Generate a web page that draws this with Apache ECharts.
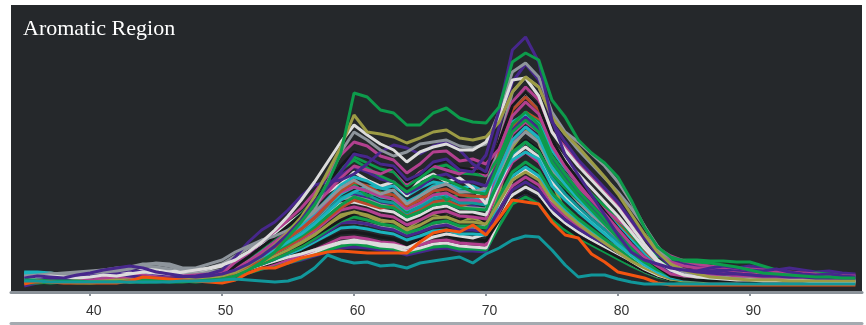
<!DOCTYPE html>
<html>
<head>
<meta charset="utf-8">
<script src="https://cdn.jsdelivr.net/npm/echarts@6/dist/echarts.min.js"></script>
<style>html,body{margin:0;padding:0;background:#fff;}#c{width:866px;height:325px;}</style>
</head>
<body>
<div id="c"></div>
<script>
const titleText = "Aromatic Region";
const tickLabels = [40, 50, 60, 70, 80, 90];
const xValues = [35,36,37,38,39,40,41,42,43,44,45,46,47,48,49,50,51,52,53,54,55,56,57,58,59,60,61,62,63,64,65,66,67,68,69,70,71,72,73,74,75,76,77,78,79,80,81,82,83,84,85,86,87,88,89,90,91,92,93,94,95,96,97,98];

const greenTop = [12,12,11,11,11,10,10,10,11,12, 12,12,11,11,12,13,16,22,30,40, 55,70,87,109,139,199,195,182,179,167, 167,179,184,174,170,169,185,230,239,232, 192,175,152,139,129,115,92,65,45,35, 31,30,29,27,25,22,19,18,17,16, 15,15,14,14];
const purpleTop = [14,16,15,14,17,19,22,24,26,24, 20,18,16,15,16,18,22,28,36,46, 58,72,90,106,120,138,135,128,126,112, 118,130,133,122,120,137,182,242,255,230, 172,137,117,97,77,57,40,32,28,24, 22,20,19,18,18,17,16,16,15,15, 14,14,14,14];
const oliveHigh = [10,11,10,10,11,10,11,12,12,13, 13,12,12,13,14,16,20,27,36,47, 60,75,95,120,145,177,160,158,155,149, 154,160,162,154,152,155,170,200,215,205, 175,158,145,130,115,98,78,58,40,28, 22,18,15,14,13,12,12,12,11,11, 11,11,11,11];
const whiteHigh = [14,15,16,15,14,15,17,16,18,20, 19,18,20,22,24,27,32,40,50,62, 76,92,110,130,150,167,157,148,142,130, 140,145,148,142,142,150,175,212,214,196, 160,142,126,112,98,84,66,48,32,22, 17,15,14,13,12,12,11,11,11,11, 10,10,10,10];
const grayHigh = [16,17,18,17,18,19,20,21,23,27, 29,28,24,24,28,32,40,46,52,56, 62,70,82,110,140,160,152,142,136,140, 148,150,152,146,144,148,180,220,229,215, 180,160,150,138,126,110,90,66,42,28, 20,16,15,14,13,13,12,12,12,12, 12,11,11,11];
const magentaA = [12,13,12,14,13,12,13,15,14,13, 14,15,14,15,16,18,30,39,50,61, 72,84,99,117,137,150,146,136,132,119, 128,140,141,131,133,128,143,176,190,178, 146,125,108,92,78,63,48,35,26,18, 16,15,17,18,16,15,14,14,13,13, 13,12,12,12];
const blackA = [10,11,10,10,11,12,11,12,13,12, 12,13,14,13,15,16,26,35,45,55, 66,77,91,108,126,140,134,128,124,110, 118,128,132,124,122,119,150,186,200,186, 152,130,112,96,80,64,49,35,25,16, 13,12,11,11,11,10,10,10,10,10, 10,10,10,10];
const greenB = [11,12,11,12,12,13,12,11,12,13, 13,14,13,14,15,17,26,35,44,54, 64,76,89,106,123,135,129,123,120,106, 114,124,127,119,118,116,135,168,180,167, 136,118,101,87,73,58,44,32,24,17, 14,13,12,12,12,11,11,11,11,11, 11,11,10,10];
const purpleB = [13,14,15,14,13,16,18,20,22,20, 18,16,15,14,15,17,28,36,45,54, 63,73,86,101,117,125,120,113,110,98, 105,115,118,110,110,106,130,162,175,163, 133,115,99,85,72,58,45,33,26,20, 18,19,21,20,18,17,16,15,15,14, 14,13,13,13];
const cyanA = [18,17,16,14,13,12,12,13,12,12, 13,12,13,14,15,16,26,33,41,49, 58,67,79,93,107,115,111,104,101,90, 97,106,108,101,101,99,122,152,165,154, 125,108,93,80,68,55,42,31,22,15, 13,12,12,12,12,12,11,11,11,11, 11,11,11,11];
const brownA = [10,10,11,11,10,10,11,11,11,12, 12,11,12,12,13,14,23,30,38,45, 54,63,74,87,101,110,106,99,97,86, 92,101,103,97,96,95,140,182,195,182, 150,128,110,94,79,63,47,34,24,16, 13,12,11,11,11,10,10,10,10,10, 10,10,10,10];
const tealB = [15,16,15,13,12,12,11,11,12,12, 12,13,12,13,14,15,23,29,36,43, 51,59,69,81,94,100,97,91,89,79, 85,93,95,89,89,87,110,138,150,140, 114,98,85,73,62,50,38,28,20,14, 12,12,11,11,11,11,11,11,11,11, 11,10,10,10];
const grayB = [17,18,19,17,16,18,20,22,24,26, 25,23,20,19,20,22,30,36,42,48, 54,60,70,82,93,95,92,87,85,76, 82,89,91,85,84,83,118,148,160,150, 122,105,90,77,66,54,42,30,22,16, 14,14,13,14,13,13,13,13,12,12, 12,12,12,12];
const whiteB = [14,15,16,16,15,14,16,18,19,22, 23,21,18,17,18,20,25,31,37,43, 50,57,66,77,88,90,87,82,80,72, 77,84,86,80,80,77,108,135,145,135, 110,95,82,70,60,48,37,27,20,15, 13,12,12,12,12,11,11,11,11,11, 11,11,11,11];
const magentaB = [12,13,14,15,16,15,14,13,14,15, 14,13,14,13,14,15,22,27,33,39, 46,53,61,72,82,85,82,77,75,67, 72,79,81,76,75,73,105,130,140,130, 108,94,82,72,62,52,42,34,28,24, 22,21,20,20,19,18,18,17,17,16, 16,15,15,15];
const oliveB = [10,11,10,10,11,11,12,11,10,11, 11,12,11,12,12,13,19,24,30,36, 42,49,57,67,77,80,77,72,70,62, 67,74,75,70,70,68,90,112,120,112, 92,79,68,58,49,40,31,24,18,13, 11,11,10,10,10,10,10,10,10,10, 10,10,10,10];
const greenC = [9,10,9,10,10,9,10,11,10,10, 11,10,10,11,11,12,18,23,28,33, 39,45,53,62,71,75,72,68,66,59, 63,69,71,66,66,64,95,120,130,121, 99,85,73,63,53,43,34,25,19,14, 12,11,11,10,10,10,10,10,10,10, 10,10,10,10];
const purpleC = [11,12,12,13,14,16,17,16,15,14, 13,12,12,12,13,14,19,24,28,33, 39,45,52,60,69,70,68,64,62,56, 60,65,67,62,62,60,82,102,110,102, 84,72,63,55,48,41,35,30,26,22, 20,19,19,20,21,20,19,18,17,17, 16,16,15,15];
const cyanB = [20,20,19,17,15,13,12,12,13,13, 13,14,13,14,14,15,20,24,28,33, 38,43,50,57,64,65,63,60,58,52, 56,61,62,58,58,57,90,116,125,116, 95,82,70,61,52,42,33,25,19,14, 13,12,12,12,12,12,12,11,11,11, 11,11,11,11];
const blackB = [10,11,11,12,12,11,12,13,12,12, 13,13,14,13,13,14,18,22,26,30, 35,40,46,53,59,60,58,55,53,48, 52,56,57,53,53,51,72,93,100,93, 76,65,56,49,42,35,28,21,16,12, 11,11,10,10,10,10,10,10,10,10, 10,10,10,10];
const magentaC = [10,11,12,12,11,12,13,14,13,12, 12,11,11,12,12,13,17,21,24,28, 32,37,42,48,54,55,53,50,49,44, 47,51,52,49,48,47,80,106,115,107, 88,76,66,58,50,43,37,31,27,24, 22,21,21,22,23,22,21,20,19,18, 18,17,17,17];
const whiteC = [12,13,14,14,13,13,15,16,16,17, 16,15,14,14,15,16,19,22,26,29, 32,36,40,45,49,50,49,46,45,41, 44,48,49,46,45,44,72,97,105,98, 80,69,60,52,44,36,28,21,16,13, 12,12,12,12,11,11,11,11,11,11, 11,11,11,11];
const greenD = [9,9,10,10,9,9,10,10,11,10, 10,11,11,10,11,12,16,19,23,26, 29,33,37,42,46,48,46,44,43,39, 42,45,46,43,43,42,66,88,95,88, 72,62,54,47,40,33,26,20,15,12, 10,10,10,10,10,10,10,9,9,9, 9,9,9,9];
const purpleD = [6,9,12,13,14,13,14,15,14,13, 13,12,12,13,13,14,17,20,23,26, 29,32,36,40,44,45,44,42,41,37, 40,43,44,41,41,40,70,92,100,93, 76,65,56,49,42,36,30,26,23,21, 20,20,19,19,18,18,17,17,16,16, 16,15,15,15];
const magentaTail = [14,15,14,15,16,17,16,15,16,17, 16,15,16,17,18,20,28,35,42,49, 57,66,77,89,100,105,101,96,93,83, 89,97,99,92,92,90,125,158,170,160, 135,118,104,92,82,72,62,54,44,36, 31,28,26,25,24,23,22,21,20,19, 18,17,16,15];
const greenTail = [10,11,10,11,10,10,11,10,11,12, 11,12,12,13,13,14,22,28,35,41, 48,56,65,76,87,95,91,86,84,75, 80,87,89,84,83,82,112,140,150,140, 118,104,92,82,72,62,52,43,36,33, 32,32,31,31,30,30,26,22,18,17, 19,18,16,15];
const cyanC = [19,19,18,17,15,14,13,13,14,14, 14,15,14,15,16,18,26,32,40,47, 55,63,74,86,98,105,101,95,93,82, 88,96,98,92,92,94,115,132,140,133, 106,92,80,69,58,47,37,27,20,15, 14,13,13,13,12,12,12,12,12,12, 12,12,12,12];
const grayC = [14,15,16,17,18,20,22,21,20,18, 17,16,16,17,18,19,24,28,33,38, 43,49,56,63,70,70,68,65,63,58, 62,66,68,64,64,66,108,138,150,140, 118,104,92,80,68,56,44,32,22,16, 14,14,13,13,13,12,12,12,12,12, 12,12,12,12];
const purpleE = [12,13,14,13,15,17,19,18,16,15, 14,14,15,16,18,22,35,50,62,70, 82,96,107,110,112,118,128,140,147,144, 138,146,150,142,128,120,165,210,228,212, 170,150,132,118,104,90,72,54,38,26, 22,21,24,26,24,22,21,23,20,18, 17,18,16,15];
const whiteD = [13,14,13,14,16,15,17,19,21,20, 18,20,22,21,23,26,33,40,48,58, 68,78,90,100,108,120,112,106,110,96, 112,118,110,114,104,88,140,185,200,185, 150,132,118,104,90,76,60,44,30,20, 15,13,12,12,12,11,11,11,11,11, 11,11,11,11];
const greenE = [10,10,11,11,12,12,11,12,13,12, 12,13,12,14,16,18,24,30,38,46, 55,66,78,88,98,108,96,100,92,80, 96,104,92,98,94,100,128,160,178,170, 142,128,112,98,86,72,58,44,32,24, 22,20,19,19,18,17,16,16,15,14, 14,13,13,13];
const magentaD = [12,12,13,13,14,15,16,17,16,15, 15,14,15,16,17,19,24,31,40,50, 60,72,86,100,114,126,122,118,124,108, 120,126,122,118,124,116,150,190,205,192, 160,145,130,116,100,86,70,55,40,30, 26,24,24,25,24,22,21,20,19,18, 17,17,16,16];
const grayD = [15,16,18,19,20,21,22,24,25,28, 28,26,22,21,24,28,36,44,50,56, 62,70,80,92,104,112,104,98,102,88, 96,104,108,100,100,104,150,200,215,205, 175,158,142,128,114,100,84,66,46,30, 22,18,16,15,14,14,13,13,13,13, 13,12,12,12];
const blackC = [11,11,12,11,12,12,13,12,12,13, 13,12,12,13,13,14,19,24,30,36, 42,48,56,64,72,78,80,72,74,66, 74,80,76,72,78,70,110,140,152,142, 118,100,88,76,64,52,40,30,22,16, 13,12,12,11,11,11,11,11,11,11, 11,11,11,11];
const cyanD = [16,16,15,15,14,13,13,14,14,13, 14,14,15,15,16,17,22,28,35,42, 50,58,68,80,92,100,106,104,106,96, 104,110,108,104,106,100,130,170,178,168, 142,124,108,94,80,66,52,38,26,18, 15,14,13,13,13,12,12,12,12,12, 12,12,12,12];
const oliveC = [11,11,12,12,11,12,12,13,12,12, 12,12,13,13,14,15,20,26,32,38, 44,50,58,66,74,80,76,70,72,64, 72,78,76,72,74,70,100,145,162,150, 110,80,64,58,52,44,36,28,20,15, 13,12,12,12,11,11,11,11,11,11, 11,11,11,11];
const purpleF = [14,15,16,15,14,15,16,17,16,15, 15,16,17,16,17,18,24,30,37,44, 52,60,70,82,92,98,94,88,86,76, 84,90,88,84,86,82,112,150,165,155, 128,112,100,88,76,64,54,44,38,32, 28,26,24,22,24,26,24,22,24,22, 20,21,19,18];
const brownB = [10,10,11,11,11,12,12,11,11,11, 12,12,12,13,13,14,20,26,32,39, 46,54,63,74,84,92,88,84,86,76, 82,90,92,86,90,88,125,165,180,172, 146,128,112,98,84,70,54,40,28,18, 14,12,11,11,11,11,10,10,10,10, 10,10,10,10];
const whiteE = [13,14,15,14,13,14,15,15,16,16, 16,15,15,15,16,17,20,23,27,31, 35,38,42,46,50,52,50,48,47,44, 50,55,58,56,54,58,88,112,122,114, 92,80,70,60,50,40,31,23,17,13, 12,12,11,11,11,11,11,11,11,11, 11,11,11,11];
const greenF = [10,11,11,10,11,11,12,12,11,12, 12,12,13,14,15,16,25,34,44,55, 66,78,92,108,122,132,124,116,110,100, 108,116,112,106,100,98,130,160,172,160, 130,112,96,82,68,54,40,30,22,16, 14,13,12,12,12,12,11,11,11,11, 11,11,11,11];
const orangeLow = [8,11,10,9,9,9,9,9,11,15, 14,13,12,11,10,9,12,19,24,24, 29,34,37,40,41,40,39,39,39,39, 50,59,62,60,67,57,74,92,90,88, 70,57,54,38,30,20,17,14,9,7, 7,7,7,7,7,7,7,7,7,7, 7,7,7,7];
const tealLow = [11,11,10,10,10,10,10,10,10,10, 10,10,11,11,11,12,13,12,11,10, 11,15,24,37,32,29,30,26,27,24, 29,31,33,35,29,38,44,52,56,55, 42,27,15,17,17,13,10,8,8,8, 8,8,8,8,8,8,8,8,8,8, 8,8,8,8];

const C = {
  green: '#0d9b4b', olive: '#9c9b45', white: '#dcdcdc', gray: '#8e959c',
  purple: '#47278c', magenta: '#b2408f', teal: '#11979b', cyan: '#1bb3bd',
  orange: '#f25410', brown: '#b94a2c', black: '#17191c'
};

const lines = [
  [grayC, C.gray], [purpleD, C.purple], [greenD, C.green], [whiteC, C.white],
  [oliveC, C.olive], [magentaC, C.magenta], [blackB, C.black], [whiteE, C.white],
  [cyanB, C.cyan], [purpleC, C.purple], [greenC, C.green], [blackC, C.black],
  [oliveB, C.olive], [magentaB, C.magenta], [purpleF, C.purple], [whiteB, C.white],
  [grayB, C.gray], [brownB, C.brown], [tealB, C.teal], [greenE, C.green],
  [cyanC, C.cyan], [greenTail, C.green], [cyanD, C.cyan], [magentaTail, C.magenta],
  [whiteD, C.white], [brownA, C.brown], [cyanA, C.cyan], [grayD, C.gray],
  [purpleB, C.purple], [greenF, C.green], [greenB, C.green], [magentaD, C.magenta],
  [blackA, C.black], [magentaA, C.magenta], [purpleE, C.purple], [grayHigh, C.gray],
  [whiteHigh, C.white], [oliveHigh, C.olive], [purpleTop, C.purple], [greenTop, C.green],
  [orangeLow, C.orange], [tealLow, C.teal]
];

const chart = echarts.init(document.getElementById('c'), null, {renderer: 'canvas'});
chart.setOption({
  animation: false,
  backgroundColor: '#ffffff',
  title: {
    text: titleText, left: 18, top: 13,
    textStyle: {color: '#ffffff', fontFamily: 'Liberation Serif', fontSize: 22, fontWeight: 'normal'}
  },
  grid: {left: 11, right: 4, top: 5, bottom: 33, show: true, backgroundColor: '#25282b', borderWidth: 0},
  xAxis: [{
    type: 'value', min: 34, max: 98.5, offset: 5,
    axisLine: {show: true, lineStyle: {color: '#8b9299', width: 3}},
    axisTick: {show: true, customValues: tickLabels, length: 4, lineStyle: {color: '#8b9299', width: 2}},
    axisLabel: {customValues: tickLabels, color: '#333333', fontSize: 14, fontFamily: 'Liberation Sans', margin: 7, padding: [0, 0, 0, 7]},
    splitLine: {show: false}
  }, {
    type: 'value', min: 34, max: 98.5, position: 'bottom', offset: 31,
    axisLine: {show: true, lineStyle: {color: '#a4aab0', width: 3}},
    axisTick: {show: false}, axisLabel: {show: false}, splitLine: {show: false}
  }],
  yAxis: {type: 'value', min: 0, max: 287, show: false, splitLine: {show: false}},
  series: lines.map(([vals, color]) => ({
    type: 'line', xAxisIndex: 0, symbol: 'none', silent: true,
    data: xValues.map((x, i) => [x, vals[i]]),
    lineStyle: {color: color, width: 3},
    itemStyle: {color: color}
  }))
});
</script>
</body>
</html>
